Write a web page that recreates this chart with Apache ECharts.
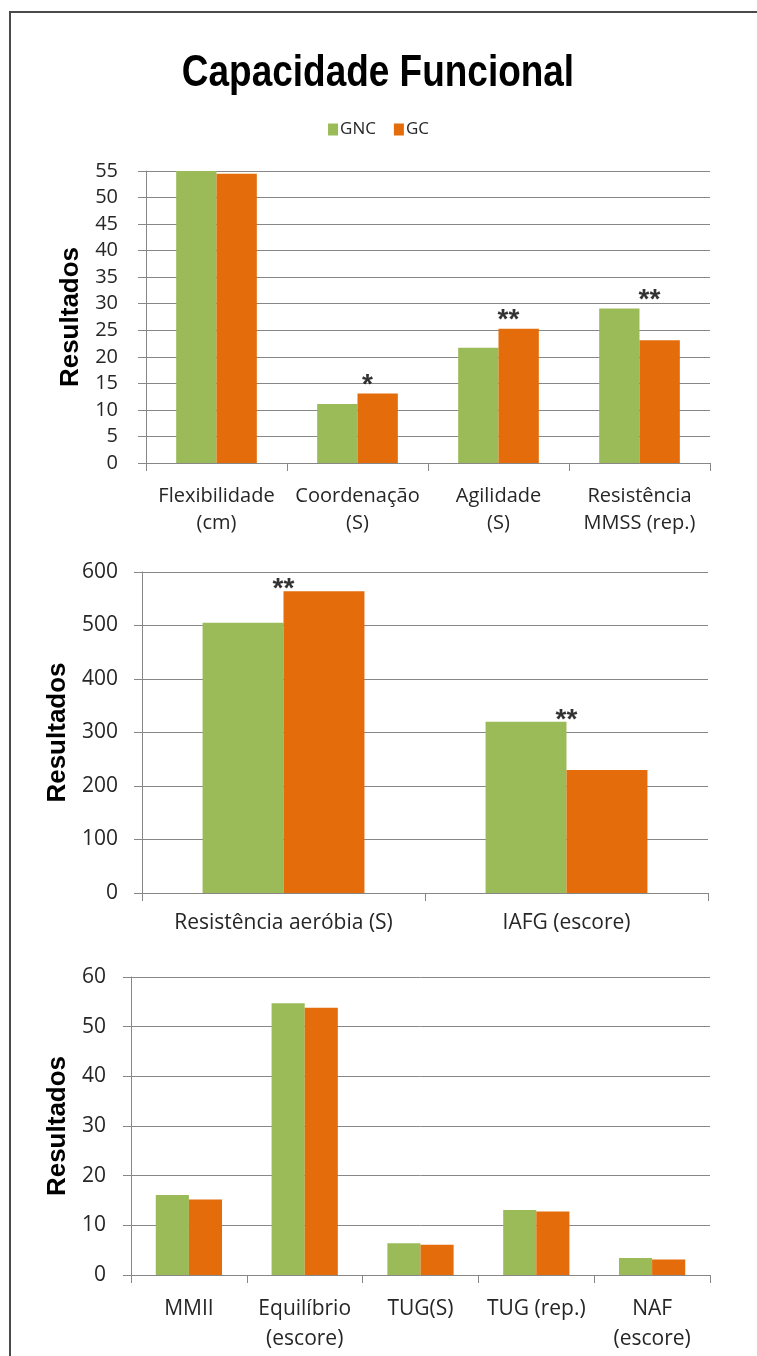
<!DOCTYPE html>
<html>
<head>
<meta charset="utf-8">
<script src="https://cdn.jsdelivr.net/npm/echarts@6/dist/echarts.min.js"></script>
<style>
  html, body { margin: 0; padding: 0; background: #ffffff; }
  #chart { width: 757px; height: 1356px; }
</style>
</head>
<body>
<div id="chart"></div>
<script>
// ---------- data ----------
const seriesNames = ['GNC', 'GC'];

const categories1 = ['Flexibilidade\n(cm)', 'Coordenação\n(S)', 'Agilidade\n(S)', 'Resistência\nMMSS (rep.)'];
const gnc1 = [55, 11.1, 21.7, 29.1];
const gc1 = [54.5, 13.1, 25.3, 23.1];
const marks1 = ['', '*', '**', '**'];
const yTicks1 = [0, 5, 10, 15, 20, 25, 30, 35, 40, 45, 50, 55];

const categories2 = ['Resistência aeróbia (S)', 'IAFG (escore)'];
const gnc2 = [505, 320];
const gc2 = [564, 230];
const marks2 = ['**', '**'];
const yTicks2 = [0, 100, 200, 300, 400, 500, 600];

const categories3 = ['MMII', 'Equilíbrio\n(escore)', 'TUG(S)', 'TUG (rep.)', 'NAF\n(escore)'];
const gnc3 = [16.1, 54.7, 6.4, 13.1, 3.4];
const gc3 = [15.2, 53.8, 6.1, 12.8, 3.1];
const yTicks3 = [0, 10, 20, 30, 40, 50, 60];

const titleText = 'Capacidade Funcional';
const yName = 'Resultados';

// ---------- styles ----------
const GREEN = '#9BBB59';
const ORANGE = '#E46C0A';
const GRID_COLOR = '#878787';
const LABEL_FONT = '"Open Sans", "Liberation Sans", sans-serif';
const BOLD_FONT = '"Liberation Sans", Arial, sans-serif';

function xAxisCfg(idx, cats, fontSize, margin, lineHeight) {
  return {
    type: 'category', gridIndex: idx, data: cats,
    axisLine: { show: true, lineStyle: { color: GRID_COLOR, width: 1 } },
    axisTick: { show: true, alignWithLabel: false, length: 8, lineStyle: { color: GRID_COLOR } },
    axisLabel: { interval: 0, margin: margin, color: '#262626', fontFamily: LABEL_FONT, fontSize: fontSize, lineHeight: lineHeight },
    splitLine: { show: false }
  };
}
function yAxisCfg(idx, ticks, labelSize, labelMargin, nameGap) {
  return {
    type: 'value', gridIndex: idx,
    min: ticks[0], max: ticks[ticks.length - 1], interval: ticks[1] - ticks[0],
    name: yName, nameLocation: 'middle', nameGap: nameGap,
    nameTextStyle: { fontFamily: BOLD_FONT, fontWeight: 'bold', fontSize: 26, color: '#000' },
    axisLine: { show: true, lineStyle: { color: GRID_COLOR, width: 1 } },
    axisTick: { show: true, length: 8, lineStyle: { color: GRID_COLOR } },
    axisLabel: { margin: labelMargin, color: '#262626', fontFamily: LABEL_FONT, fontSize: labelSize },
    splitLine: { show: true, lineStyle: { color: GRID_COLOR, width: 1 } }
  };
}
function barSeries(name, data, idx, color) {
  return {
    name: name, type: 'bar', xAxisIndex: idx, yAxisIndex: idx,
    data: data, barWidth: '28.6%', barGap: '0%',
    itemStyle: { color: color }, emphasis: { disabled: true }
  };
}
function markSeries(idx, a, b, marks, offset) {
  const pts = [];
  marks.forEach((m, i) => {
    if (m) pts.push({ value: [i, Math.max(a[i], b[i])], mark: m });
  });
  return {
    type: 'scatter', xAxisIndex: idx, yAxisIndex: idx, symbolSize: 0,
    silent: true, data: pts,
    label: {
      show: true, position: 'top', distance: 0, offset: offset,
      formatter: p => p.data.mark,
      fontFamily: BOLD_FONT, fontWeight: 'bold', fontSize: 28, color: '#000'
    }
  };
}

const chart = echarts.init(document.getElementById('chart'), null, { renderer: 'canvas' });
chart.setOption({
  backgroundColor: '#ffffff',
  animation: false,
  graphic: [
    {
      type: 'rect', shape: { x: 10, y: 12, width: 800, height: 1400 },
      style: { fill: 'none', stroke: '#4a4a4a', lineWidth: 2 }, silent: true
    },
    {
      type: 'text', x: 378, y: 74, scaleX: 0.84, silent: true,
      style: {
        text: titleText, textAlign: 'center', textVerticalAlign: 'middle',
        font: 'bold 44px "Liberation Sans", Arial, sans-serif', fill: '#000'
      }
    }
  ],
  legend: {
    data: seriesNames, top: 116, left: 'center',
    icon: 'rect', itemWidth: 10, itemHeight: 12, itemGap: 18,
    textStyle: { fontFamily: LABEL_FONT, fontSize: 17, color: '#262626', padding: [0, 0, 0, -3] }
  },
  grid: [
    { left: 146, right: 47, top: 171, height: 292 },
    { left: 142, right: 49, top: 572, height: 321 },
    { left: 131, right: 47, top: 977, height: 298 }
  ],
  xAxis: [
    xAxisCfg(0, categories1, 20, 20, 27),
    xAxisCfg(1, categories2, 21, 17, 27),
    xAxisCfg(2, categories3, 21, 19, 30)
  ],
  yAxis: [
    yAxisCfg(0, yTicks1, 20, 28, 62),
    yAxisCfg(1, yTicks2, 21, 24, 71),
    yAxisCfg(2, yTicks3, 21, 25, 56)
  ],
  series: [
    barSeries(seriesNames[0], gnc1, 0, GREEN),
    barSeries(seriesNames[1], gc1, 0, ORANGE),
    barSeries(seriesNames[0], gnc2, 1, GREEN),
    barSeries(seriesNames[1], gc2, 1, ORANGE),
    barSeries(seriesNames[0], gnc3, 2, GREEN),
    barSeries(seriesNames[1], gc3, 2, ORANGE),
    markSeries(0, gnc1, gc1, marks1, [10, 6]),
    markSeries(1, gnc2, gc2, marks2, [0, 12])
  ]
});
</script>
</body>
</html>
